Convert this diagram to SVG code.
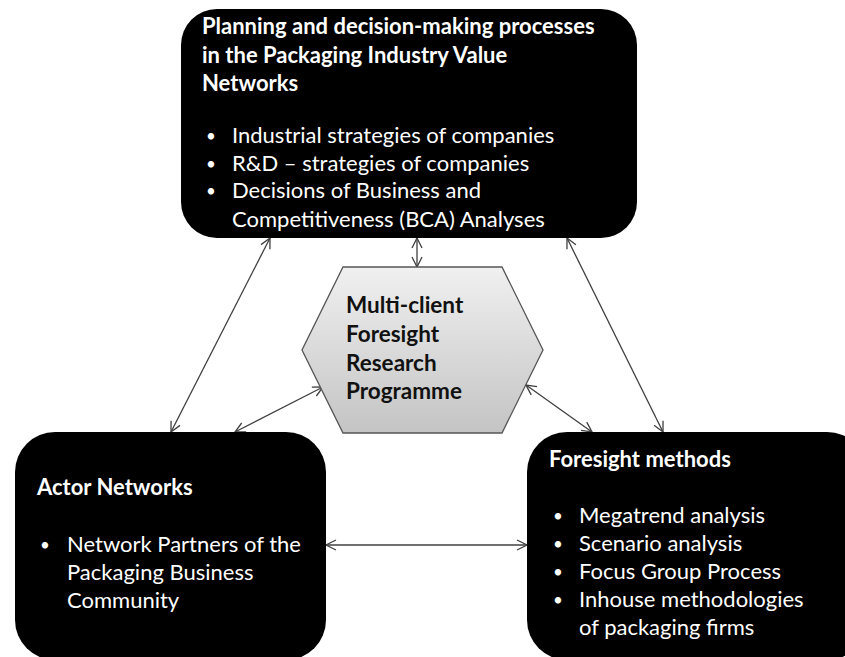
<svg xmlns="http://www.w3.org/2000/svg" width="845" height="657" viewBox="0 0 845 657">
<defs>
<linearGradient id="hexg" x1="0" y1="0" x2="0" y2="1">
<stop offset="0" stop-color="#f0f0f0"/>
<stop offset="1" stop-color="#c4c4c4"/>
</linearGradient>
<marker id="ah" viewBox="0 0 12 12" refX="11" refY="6" markerWidth="12" markerHeight="12" markerUnits="userSpaceOnUse" orient="auto-start-reverse">
<path d="M1,1 L11,6 L1,11" fill="none" stroke="#404040" stroke-width="1.3"/>
</marker>
</defs>
<style>
.box{fill:#000;}
.t{font-family:Lato,"Liberation Sans",sans-serif;font-size:22px;fill:#fff;}
.b{font-weight:bold;}
.d{font-size:17px;}
.hx{font-family:Lato,"Liberation Sans",sans-serif;font-size:22.5px;font-weight:bold;fill:#111;}
.c{stroke:#404040;stroke-width:1.3;fill:none;marker-start:url(#ah);marker-end:url(#ah);}
</style>
<g id="connectors">
<line class="c" x1="270" y1="238" x2="171" y2="432"/>
<line class="c" x1="417" y1="238" x2="417" y2="267"/>
<line class="c" x1="567" y1="238" x2="663" y2="432"/>
<line class="c" x1="323" y1="387" x2="235" y2="432"/>
<line class="c" x1="526" y1="385" x2="592" y2="432"/>
<line class="c" x1="326" y1="545" x2="527" y2="545"/>
</g>
<g id="planning">
<rect class="box" x="181" y="9" width="456" height="229" rx="36"/>
<text class="t b" x="202" y="34">Planning and decision-making processes</text>
<text class="t b" x="202" y="63">in the Packaging  Industry Value</text>
<text class="t b" x="202" y="91">Networks</text>
<text class="t d" x="206" y="142">•</text>
<text class="t" x="232" y="143">Industrial strategies of companies</text>
<text class="t d" x="206" y="170">•</text>
<text class="t" x="232" y="171">R&amp;D – strategies of companies</text>
<text class="t d" x="206" y="197">•</text>
<text class="t" x="232" y="198">Decisions of Business and</text>
<text class="t" x="232" y="227">Competitiveness (BCA) Analyses</text>
</g>
<g id="programme">
<polygon points="343,267 502,267 543,350 502,433 343,433 302,350" fill="url(#hexg)" stroke="#555" stroke-width="1.3"/>
<text class="hx" x="346" y="313">Multi-client</text>
<text class="hx" x="346" y="342">Foresight</text>
<text class="hx" x="346" y="371">Research</text>
<text class="hx" x="346" y="399">Programme</text>
</g>
<g id="actor">
<rect class="box" x="15" y="432" width="311" height="228" rx="40"/>
<text class="t b" x="37" y="495">Actor Networks</text>
<text class="t d" x="40" y="551">•</text>
<text class="t" x="67" y="552">Network Partners of the</text>
<text class="t" x="67" y="580">Packaging Business</text>
<text class="t" x="67" y="608">Community</text>
</g>
<g id="methods">
<rect class="box" x="527" y="432" width="340" height="228" rx="40"/>
<text class="t b" x="549" y="467">Foresight methods</text>
<text class="t d" x="553" y="522">•</text>
<text class="t" x="579" y="523">Megatrend analysis</text>
<text class="t d" x="553" y="550">•</text>
<text class="t" x="579" y="551">Scenario analysis</text>
<text class="t d" x="553" y="578">•</text>
<text class="t" x="579" y="579">Focus Group Process</text>
<text class="t d" x="553" y="606">•</text>
<text class="t" x="579" y="607">Inhouse methodologies</text>
<text class="t" x="579" y="635">of packaging firms</text>
</g>
</svg>
